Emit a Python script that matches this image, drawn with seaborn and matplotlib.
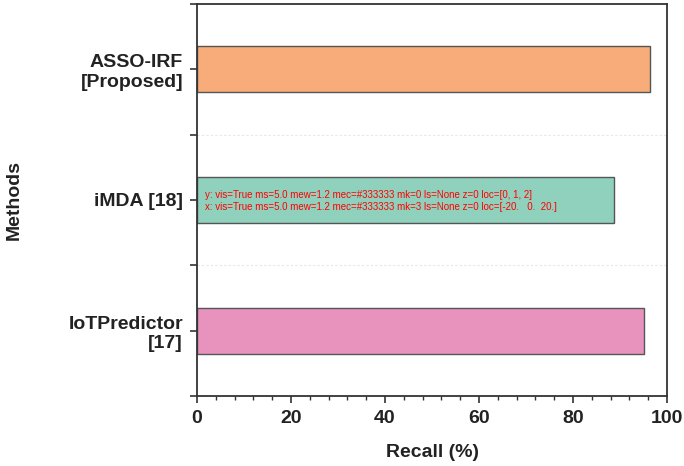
import matplotlib
matplotlib.use("Agg")
import matplotlib.pyplot as plt
import seaborn as sns
import pandas as pd
from matplotlib.ticker import MultipleLocator, FixedLocator

methods = ["ASSO-IRF\n[Proposed]", "iMDA [18]", "IoTPredictor\n[17]"]
recall = [96.3, 88.8, 95.0]
colors = ["#F7AC79", "#8FD1BD", "#E892BE"]

sns.set_theme(style="ticks")
plt.rcParams['font.family'] = ['Liberation Sans', 'DejaVu Sans']
plt.rcParams['font.weight'] = 'bold'

df = pd.DataFrame({"Methods": methods, "Recall": recall})

fig = plt.figure(figsize=(6.84, 4.66), dpi=100)
ax = fig.add_axes([197/684, (466-396)/466, (667-197)/684, (396-4)/466])

sns.barplot(data=df, x="Recall", y="Methods", hue="Methods", palette=colors,
            orient="h", width=0.35, edgecolor="#555555", linewidth=1.0,
            saturation=1, legend=False, ax=ax)

ax.set_xlim(0, 100)
ax.set_ylim(2.5, -0.5)
ax.xaxis.set_major_locator(MultipleLocator(20))
ax.xaxis.set_minor_locator(MultipleLocator(4))
ax.yaxis.set_minor_locator(FixedLocator([-0.5, 0.5, 1.5, 2.5]))
for y in [0.5, 1.5]:
    ax.axhline(y, color="#e6e6e6", lw=0.8, ls=(0, (2, 2)), zorder=0)

ax.tick_params(axis="both", which="major", direction="out", length=5, width=1.2,
               color="#333333", labelsize=14, labelcolor="#222222",
               left=True, bottom=True)
ax.tick_params(axis="both", which="minor", direction="out", length=3, width=1.0,
               color="#333333", left=True, bottom=True)
ax.tick_params(axis="y", which="minor", length=5, width=1.2)
ax.tick_params(axis="y", which="major", pad=5)
ax.tick_params(axis="x", which="major", pad=5)
for lab in ax.get_xticklabels() + ax.get_yticklabels():
    lab.set_fontweight("bold")
    lab.set_multialignment("right")

for s in ax.spines.values():
    s.set_visible(True)
    s.set_color("#333333")
    s.set_linewidth(1.3)

ax.set_xlabel("Recall (%)", fontsize=14, fontweight="bold", color="#222222", labelpad=12)
ax.set_ylabel("Methods", fontsize=14, fontweight="bold", color="#222222")
ax.yaxis.set_label_coords(-0.37, 0.5)

fig.canvas.draw()
info = []
for name, axis in [("y", ax.yaxis), ("x", ax.xaxis)]:
    t = axis.get_major_ticks()[0]
    l = t.tick1line
    info.append(f"{name}: vis={l.get_visible()} ms={l.get_markersize()} mew={l.get_markeredgewidth()} "
                f"mec={l.get_markeredgecolor()} mk={l.get_marker()} ls={l.get_linestyle()} z={t.get_zorder()} "
                f"loc={axis.get_majorticklocs()[:3]}")
fig.text(0.3, 0.55, "\n".join(info), fontsize=7, color="red", fontweight="normal")

fig.savefig("out.png", dpi=100)
